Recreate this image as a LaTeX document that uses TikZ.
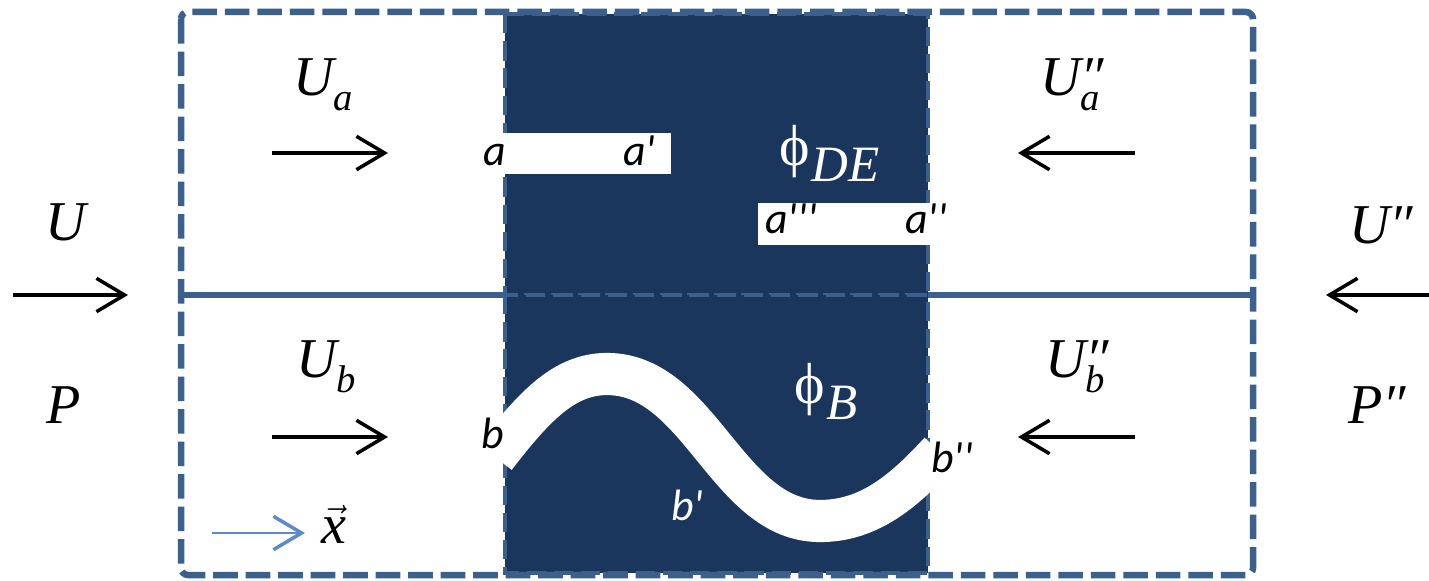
\documentclass[tikz,border=0pt]{standalone}
\usepackage{fontspec}
\setmainfont{Liberation Serif}
\newfontfamily\calfont{Carlito}
\usetikzlibrary{arrows.meta}

\definecolor{cellblue}{RGB}{27,54,93}
\definecolor{edgeblue}{RGB}{60,96,142}
\definecolor{axisblue}{RGB}{91,140,200}

% velocity symbol with subscript and optional prime mark
\newcommand{\vel}[2]{\textit{U}\rlap{\textit{#2}}\raisebox{-9pt}{\fontsize{22}{22}\selectfont\textit{#1}}}
\newcommand{\phisub}[1]{ϕ\kern1pt\raisebox{-9.5pt}{\fontsize{29}{29}\selectfont\textit{#1}}}

\tikzset{
  box/.style={edgeblue,line width=3.7pt,dash pattern=on 14pt off 4.5pt,rounded corners=4pt},
  cell/.style={fill=cellblue,draw=edgeblue,line width=2.2pt,dash pattern=on 11pt off 4.5pt},
  midline/.style={edgeblue,line width=3.2pt},
  flow/.style={line width=2pt,-{Straight Barb[length=16pt,width=19pt,line width=2pt]}},
  symlbl/.style={font=\itshape\fontsize{32}{32}\selectfont,inner sep=0pt,anchor=base west},
  portlbl/.style={font=\calfont\itshape\fontsize{25}{25}\selectfont,inner sep=0pt,anchor=base west},
  phaselbl/.style={font=\fontsize{33}{33}\selectfont,text=white,inner sep=0pt,anchor=base west}
}

\begin{document}
\begin{tikzpicture}[x=0.02cm,y=-0.02cm]
\useasboundingbox (0,0) rectangle (1429,581);

% channel
\draw[midline] (181,295) -- (1253,295);
\draw[cell] (505,14) rectangle (928,295);
\draw[cell] (505,295) rectangle (928,573);
\fill[white] (502,133) rectangle (671,174);
\fill[white] (758,203) rectangle (931,245);
\begin{scope}
\clip (503,0) rectangle (930,581);
\draw[white,line width=24pt] (495,457) .. controls (535,405) and (565,374) .. (607,374)
  .. controls (700,374) and (727,521) .. (820,521) .. controls (870,521) and (905,490) .. (940,452);
\end{scope}
\draw[box] (181,12) rectangle (1253,575);

% far field
\node[symlbl] (U) at (45,240) {U};
\node[symlbl] (P) at (46,423) {P};
\node[symlbl] (U2) at (1349,243) {U″};
\node[symlbl] (P2) at (1348,423) {P″};
\coordinate (inl) at (13,295);
\coordinate (inlend) at (128,295);
\coordinate (inr) at (1429,295);
\coordinate (inrend) at (1326,295);
\draw[flow] (inl) -- (inlend);
\draw[flow] (inr) -- (inrend);

% layer velocities
\node[symlbl] (Ua) at (293,95) {\vel{a}{}};
\node[symlbl] (Ub) at (296,377) {\vel{b}{}};
\node[symlbl] (Ua2) at (1040,95) {\vel{a}{″}};
\node[symlbl] (Ub2) at (1045,377) {\vel{b}{″}};
\coordinate (fa) at (272,153);
\coordinate (faend) at (388,153);
\coordinate (fb) at (272,437);
\coordinate (fbend) at (388,437);
\coordinate (fa2) at (1135,153);
\coordinate (fa2end) at (1018,153);
\coordinate (fb2) at (1135,437);
\coordinate (fb2end) at (1018,437);
\draw[flow] (fa) -- (faend);
\draw[flow] (fb) -- (fbend);
\draw[flow] (fa2) -- (fa2end);
\draw[flow] (fb2) -- (fb2end);

% ports
\node[portlbl] (a) at (483,165) {a};
\node[portlbl] (a1) at (623,165) {a'};
\node[portlbl] (a3) at (765,233) {a'''};
\node[portlbl] (a2) at (905,233) {a''};
\node[portlbl] (b) at (481,448) {b};
\node[portlbl,text=white] (b1) at (671,520) {b'};
\node[portlbl] (b2) at (931,472) {b''};

% phases
\node[phaselbl] (phiDE) at (779,165) {\phisub{DE}};
\node[phaselbl] (phiB) at (794,403) {\phisub{B}};

% axis
\coordinate (ax) at (212,533);
\coordinate (axend) at (305,533);
\draw[flow,axisblue,line width=1.6pt] (ax) -- (axend);
\node[symlbl] (x) at (321,543) {$\vec{\textit{x}}$};
\end{tikzpicture}
\end{document}
